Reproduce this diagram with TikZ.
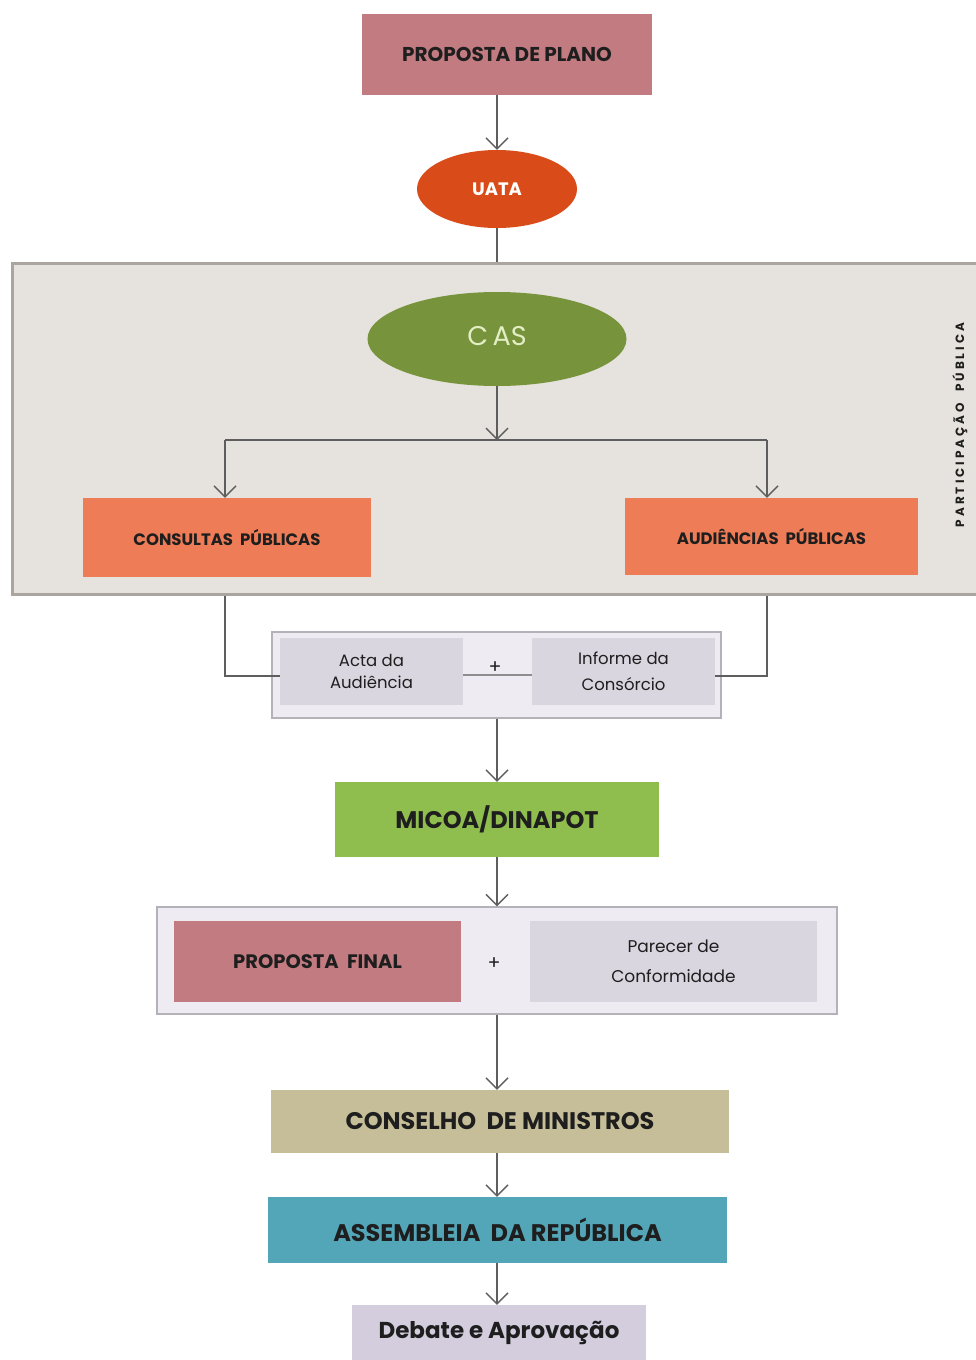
\documentclass[tikz,border=0pt]{standalone}
\usepackage{fontspec}
\setmainfont{Poppins}
\usetikzlibrary{shapes.geometric,arrows.meta}
\definecolor{pinkc}{HTML}{C27B80}
\definecolor{uatac}{HTML}{D94B18}
\definecolor{casc}{HTML}{77933C}
\definecolor{castxt}{HTML}{E4EEC4}
\definecolor{coralc}{HTML}{EE7D57}
\definecolor{partc}{HTML}{E6E2DD}
\definecolor{partd}{HTML}{ABA59F}
\definecolor{grpc}{HTML}{EEECF2}
\definecolor{grpd}{HTML}{B4B2B8}
\definecolor{lavc}{HTML}{DAD6E0}
\definecolor{micoac}{HTML}{8FBE4F}
\definecolor{tanc}{HTML}{C5BE98}
\definecolor{tealc}{HTML}{53A5B8}
\definecolor{debc}{HTML}{D3CDDE}
\definecolor{linec}{HTML}{5E5E5E}
\definecolor{txtc}{HTML}{1E1E1E}
\newcommand\fsz[2]{\fontsize{#1}{#2}\selectfont}
\begin{document}
\begin{tikzpicture}[x=1pt,y=-1pt,
  boxs/.style={rectangle,inner sep=0pt,draw=none,text=txtc,align=center},
  grp/.style={rectangle,inner sep=0pt,fill=grpc,draw=grpd,line width=1.2pt},
  arr/.style={draw=linec,line width=1.4pt,-{Straight Barb[length=11pt,width=22pt,line width=1.4pt]}},
  ln/.style={draw=linec,line width=1.4pt}]
\useasboundingbox (0,0) rectangle (976,1360);
\fill[white] (0,0) rectangle (976,1360);
\coordinate (ax) at (497,0);
% top
\node[boxs,fill=pinkc,minimum width=290pt,minimum height=81pt,font=\fsz{20}{24}\bfseries] (ppl) at (507,54.5) {PROPOSTA DE PLANO};
\node[ellipse,inner sep=0pt,fill=uatac,minimum width=160pt,minimum height=78pt,text=white,font=\fsz{18}{21}\bfseries] (uata) at (497,189) {UATA};
% participation box
\node[rectangle,inner sep=0pt,fill=partc,draw=partd,line width=3pt,minimum width=970pt,minimum height=331pt] (part) at (497,428.5) {};
\node[rotate=90,text=txtc,font=\fsz{12}{14}\bfseries\addfontfeature{LetterSpace=25}] (plab) at (960,425) {PARTICIPAÇÃO\ \ PÚBLICA};
\node[ellipse,inner sep=0pt,fill=casc,minimum width=259pt,minimum height=94pt,text=castxt,font=\fsz{27}{30}] (cas) at (497,339) {\raisebox{7pt}{C\,AS}};
\node[boxs,fill=coralc,minimum width=288pt,minimum height=79pt,font=\fsz{16.5}{20}\bfseries] (cons) at (227,537.5) {CONSULTAS\ \ PÚBLICAS};
\node[boxs,fill=coralc,minimum width=293pt,minimum height=77pt,font=\fsz{16.5}{20}\bfseries] (aud) at (771.5,536.5) {AUDIÊNCIAS\ \ PÚBLICAS};
\coordinate (jn) at (497,440);
\coordinate (bl) at (225,440);
\coordinate (br) at (767,440);
\draw[ln] (uata.south) -- (part.north -| uata);
\draw[arr] (ax |- cas.south) -- (jn);
\draw[ln] (bl) -- (br);
\draw[arr] (bl) -- (bl |- cons.north);
\draw[arr] (br) -- (br |- aud.north);
% acta group
\node[grp,minimum width=449pt,minimum height=86pt] (g1) at (496.5,675) {};
\node[boxs,fill=lavc,minimum width=183pt,minimum height=67pt,font=\fsz{16.5}{22}] (acta) at (371.5,671.5) {Acta da\\Audiência};
\node[boxs,fill=lavc,minimum width=183pt,minimum height=67pt,font=\fsz{16.5}{26}] (inf) at (623.5,671.5) {Informe da\\Consórcio};
\draw[ln,line width=1.2pt,draw=linec!70] (acta.east |- 0,675) -- (inf.west |- 0,675);
\node[text=txtc,font=\fsz{19}{21}] (plus1) at (495,668) {+};
\draw[ln] (bl |- part.south) |- (acta.west |- 0,676);
\draw[ln] (br |- part.south) |- (inf.east |- 0,676);
% micoa
\node[boxs,fill=micoac,minimum width=324pt,minimum height=75pt,font=\fsz{24}{28}\bfseries] (micoa) at (497,819.5) {MICOA/DINAPOT};
\draw[arr] (ax |- g1.south) -- (ax |- micoa.north);
% final group
\node[grp,minimum width=680pt,minimum height=107pt] (g2) at (497,960.5) {};
\node[boxs,fill=pinkc,minimum width=287pt,minimum height=81pt,font=\fsz{19.5}{23}\bfseries] (pfin) at (317.5,961.5) {PROPOSTA\ \ FINAL};
\node[boxs,fill=lavc,minimum width=287pt,minimum height=81pt,font=\fsz{17}{30}] (par) at (673.5,961.5) {Parecer de\\Conformidade};
\node[text=txtc,font=\fsz{19}{21}] (plus2) at (494,964) {+};
\draw[arr] (ax |- micoa.south) -- (ax |- g2.north);
% bottom chain
\node[boxs,fill=tanc,minimum width=458pt,minimum height=63pt,font=\fsz{24}{28}\bfseries] (cdm) at (500,1121.5) {CONSELHO\ \ DE MINISTROS};
\node[boxs,fill=tealc,minimum width=459pt,minimum height=66pt,font=\fsz{24}{28}\bfseries] (ar) at (497.5,1230) {ASSEMBLEIA\ \ DA REPÚBLICA};
\node[boxs,fill=debc,minimum width=294pt,minimum height=56pt,font=\fsz{23}{27}\bfseries] (deb) at (499,1333) {Debate e Aprovação};
\draw[arr] (ax |- g2.south) -- (ax |- cdm.north);
\draw[arr] (ax |- cdm.south) -- (ax |- ar.north);
\draw[arr] (ax |- ar.south) -- (ax |- deb.north);
\draw[arr] (ax |- ppl.south) -- (ax |- uata.north);
\end{tikzpicture}
\end{document}
